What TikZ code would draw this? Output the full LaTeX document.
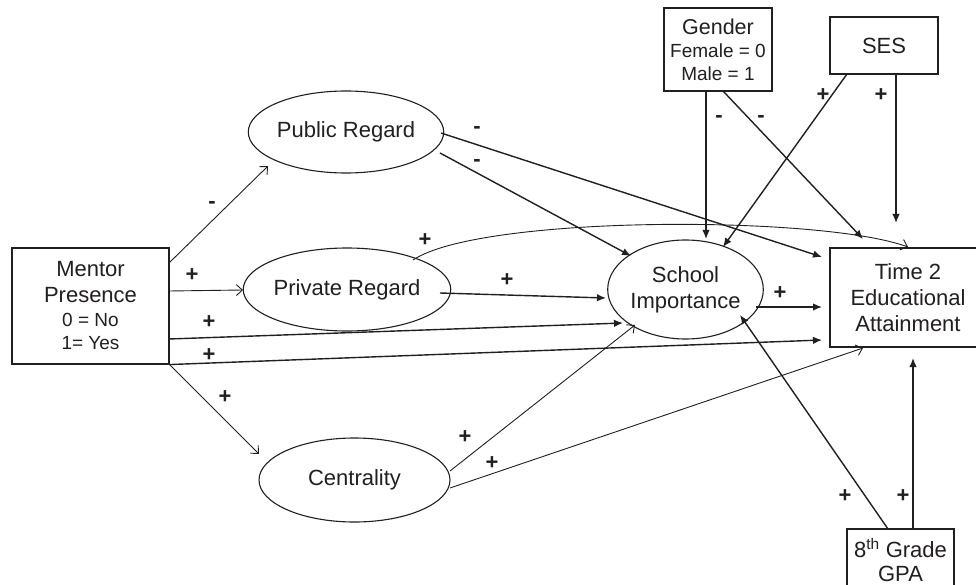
\documentclass[tikz,border=0pt]{standalone}
\usepackage{fontspec}
\setmainfont{Liberation Sans}
\usetikzlibrary{arrows.meta,calc,shapes.geometric}
\definecolor{ink}{HTML}{231F20}
\begin{document}
\begin{tikzpicture}[x=1pt,y=-1pt,
  every node/.style={text=ink},
  var/.style={draw=ink, line width=1.1pt, ellipse, inner sep=0pt, align=center, font=\fontsize{22}{26}\selectfont},
  box/.style={draw=ink, line width=1.1pt, rectangle, inner sep=0pt, align=center, font=\fontsize{22}{26}\selectfont},
  fa/.style={draw=ink, line width=1.4pt, -{Latex[length=9pt,width=7.5pt]}},
  oa/.style={draw=ink, line width=0.9pt, -{Straight Barb[length=6pt,width=11pt]}},
  sgn/.style={font=\bfseries\fontsize{22}{22}\selectfont, inner sep=0pt}
]
\useasboundingbox (0,0) rectangle (976,585);
\fill[white] (0,0) rectangle (976,585);

% nodes
\node[box, minimum width=157pt, minimum height=116pt] (m) at (90.5,306)
  {Mentor\\Presence\\[-2pt]{\fontsize{19}{23}\selectfont 0 = No}\\[-3pt]{\fontsize{19}{23}\selectfont 1= Yes}};
\node[var, minimum width=190pt, minimum height=82pt] (pub) at (346,132) {Public Regard};
\node[var, minimum width=192pt, minimum height=83pt] (priv) at (347,289.5) {Private Regard};
\node[var, minimum width=191pt, minimum height=84pt] (cent) at (354.5,480) {Centrality};
\node[var, minimum width=141pt, minimum height=99pt] (school) at (685.5,289.5) {School\\Importance};
\node[box, minimum width=156pt, minimum height=99pt] (t2) at (908,297.5) {Time 2\\Educational\\Attainment};
\node[box, minimum width=108pt, minimum height=83pt, font=\fontsize{19}{23}\selectfont] (gender) at (718,49.5)
  {{\fontsize{21.5}{24}\selectfont Gender}\\Female = 0\\Male = 1};
\node[box, minimum width=108pt, minimum height=57pt] (ses) at (884,45.5) {SES};
\node[box, minimum width=107pt, minimum height=62pt] (gpa) at (900.5,560) {8\textsuperscript{th} Grade\\[-2pt]GPA};

% connectors from Mentor Presence
\draw[oa] ($(m.center)+(78.5,-43)$) -- ($(pub.center)+(-78,34)$);
\draw[oa] ($(m.center)+(78.5,-15)$) -- ($(priv.center)+(-104,0.5)$);
\draw[fa] ($(m.center)+(78.5,33)$) -- ($(school.center)+(-62.5,33.5)$);
\draw[fa] (m.south east) -- ($(t2.center)+(-86,42.5)$);
\draw[oa] (m.south east) -- ($(cent.center)+(-95.5,-26)$);

% from Public Regard
\draw[fa] ($(pub.center)+(94,21)$) -- ($(school.center)+(-54.5,-33.5)$);
\draw[fa] ($(pub.center)+(95,1)$) -- ($(t2.center)+(-86,-40.5)$);

% from Private Regard
\draw[oa] ($(priv.center)+(66,-29.5)$) .. controls ($(priv.center)+(133,-74.5)$) and ($(t2.center)+(-88,-82.5)$) .. ($(t2.center)+(0,-50.5)$);
\draw[fa] ($(priv.center)+(93,3.5)$) -- ($(school.center)+(-79.5,8.5)$);

% School Importance -> Time 2
\draw[fa] ($(school.center)+(70.5,17.5)$) -- ($(t2.center)+(-86,9.5)$);

% Gender
\draw[fa] ($(gender.center)+(-12,41.5)$) -- ($(school.center)+(20.5,-50.5)$);
\draw[fa] ($(gender.center)+(5,41.5)$) -- ($(t2.center)+(-45,-58.5)$);

% SES
\draw[fa] ($(ses.center)+(-37,28.5)$) -- ($(school.center)+(37.5,-42.5)$);
\draw[fa] ($(ses.center)+(12,28.5)$) -- ($(t2.center)+(-12,-74.5)$);

% Centrality
\draw[oa] ($(cent.center)+(95.5,-9)$) -- ($(school.center)+(-50.5,35.5)$);
\draw[oa] ($(cent.center)+(95.5,8)$) -- ($(t2.center)+(-45,50.5)$);

% GPA
\draw[fa] ($(gpa.center)+(-12.5,-31)$) -- ($(school.center)+(54.5,25.5)$);
\draw[fa] ($(gpa.center)+(12.5,-31)$) -- ($(t2.center)+(5,60.5)$);

% signs
\node[sgn] (l1) at (212,205) {-};
\node[sgn] (l2) at (192,275) {+};
\node[sgn] (l3) at (209,322) {+};
\node[sgn] (l4) at (209,355) {+};
\node[sgn] (l5) at (225,397) {+};
\node[sgn] (l6) at (477,163) {-};
\node[sgn] (l7) at (477,130) {-};
\node[sgn] (l8) at (425,240) {+};
\node[sgn] (l9) at (507,280) {+};
\node[sgn] (l10) at (780,293) {+};
\node[sgn] (l11) at (719,119) {-};
\node[sgn] (l12) at (761,119) {-};
\node[sgn] (l13) at (823,95) {+};
\node[sgn] (l14) at (881,95) {+};
\node[sgn] (l15) at (465,437) {+};
\node[sgn] (l16) at (492,463) {+};
\node[sgn] (l17) at (845,496) {+};
\node[sgn] (l18) at (903,496) {+};
\end{tikzpicture}
\end{document}
